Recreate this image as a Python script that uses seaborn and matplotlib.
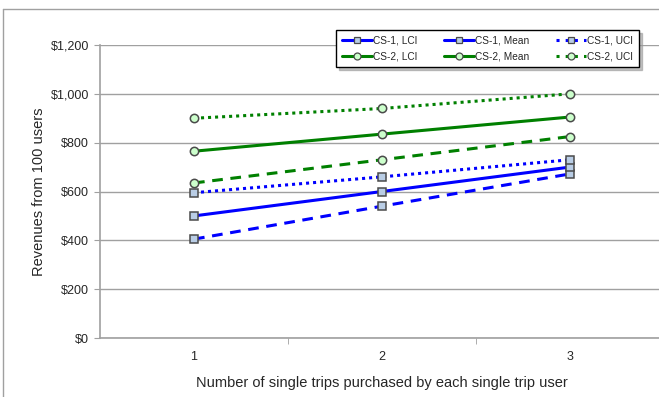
import matplotlib
matplotlib.use("Agg")
import matplotlib.pyplot as plt
from matplotlib.lines import Line2D
from matplotlib.ticker import FuncFormatter
import pandas as pd
import seaborn as sns

# data
trips = [1, 2, 3]
cs1_lci = [405, 540, 672]
cs1_mean = [500, 600, 700]
cs1_uci = [595, 660, 730]
cs2_lci = [635, 730, 825]
cs2_mean = [765, 835, 905]
cs2_uci = [900, 940, 1000]

sns.set_style("white")
plt.rcParams['font.family'] = ['Liberation Sans', 'DejaVu Sans']

fig = plt.figure(figsize=(6.59, 3.97), dpi=100)
ax = fig.add_axes([100 / 659, 59 / 397, 564 / 659, 293 / 397])

blue, green = "#0000ff", "#008000"
sq = dict(marker="s", markerfacecolor="#b9cde5", markeredgecolor="#4a4a4a")
ci = dict(marker="o", markerfacecolor="#ccffcc", markeredgecolor="#4a4a4a")
dashed = (0, (3.5, 2.5))
dotted = (0, (1, 1.3))

series = [
    ("CS-1, LCI", cs1_lci, blue, dashed, sq),
    ("CS-1, Mean", cs1_mean, blue, "-", sq),
    ("CS-1, UCI", cs1_uci, blue, dotted, sq),
    ("CS-2, LCI", cs2_lci, green, dashed, ci),
    ("CS-2, Mean", cs2_mean, green, "-", ci),
    ("CS-2, UCI", cs2_uci, green, dotted, ci),
]

for name, vals, col, ls, mk in series:
    df = pd.DataFrame({"trips": trips, "rev": vals})
    sns.lineplot(data=df, x="trips", y="rev", ax=ax, color=col, linewidth=2.2,
                 linestyle=ls, markersize=6, markeredgewidth=1.1, zorder=3, **mk)

ax.set_xlim(0.5, 3.5)
ax.set_ylim(0, 1200)
ax.set_yticks(range(0, 1201, 200))
ax.yaxis.set_major_formatter(FuncFormatter(lambda v, p: f"${v:,.0f}"))
ax.set_xticks(trips)
ax.set_xticks([1.5, 2.5], minor=True)
ax.tick_params(axis="x", which="major", length=0, pad=9, labelsize=9)
ax.tick_params(axis="x", which="minor", length=4, color="#a0a0a0", direction="out", bottom=True)
ax.tick_params(axis="y", length=4, color="#a0a0a0", direction="out", left=True, labelsize=9, pad=4)
ax.grid(axis="y", color="#a0a0a0", linewidth=1)
for s in ["top", "right"]:
    ax.spines[s].set_visible(False)
for s in ["left", "bottom"]:
    ax.spines[s].set_color("#a0a0a0")
    ax.spines[s].set_linewidth(1.2)

ax.set_xlabel("Number of single trips purchased by each single trip user", fontsize=10.5, labelpad=10)
ax.set_ylabel("Revenues from 100 users", fontsize=10.5, labelpad=3)

# legend, Excel style (LCI drawn solid in the key)
handles = []
for name, vals, col, ls, mk in series:
    key_ls = (0, (1, 2)) if ls == dotted else "-"
    handles.append(Line2D([], [], color=col, linewidth=2.2, linestyle=key_ls,
                          markersize=5, markeredgewidth=0.9, label=name, **mk))
order = [0, 3, 1, 4, 2, 5]
leg = fig.legend([handles[i] for i in order], [handles[i].get_label() for i in order],
                 ncol=3, loc="upper right", bbox_to_anchor=(644 / 659, 1 - 25 / 397),
                 fontsize=7.3, frameon=True, fancybox=False, edgecolor="black",
                 handlelength=3, handletextpad=0.1, columnspacing=2.6,
                 borderpad=0.55, labelspacing=0.6,
                 shadow={"color": "0.6", "alpha": 0.6})
leg.get_frame().set_linewidth(1)

# outer chart border
fig.add_artist(Line2D([3 / 659, 3 / 659], [0, 1 - 9 / 397], color="#a0a0a0", linewidth=1))
fig.add_artist(Line2D([3 / 659, 1], [1 - 9 / 397, 1 - 9 / 397], color="#a0a0a0", linewidth=1))

fig.savefig("out.png", dpi=100)
